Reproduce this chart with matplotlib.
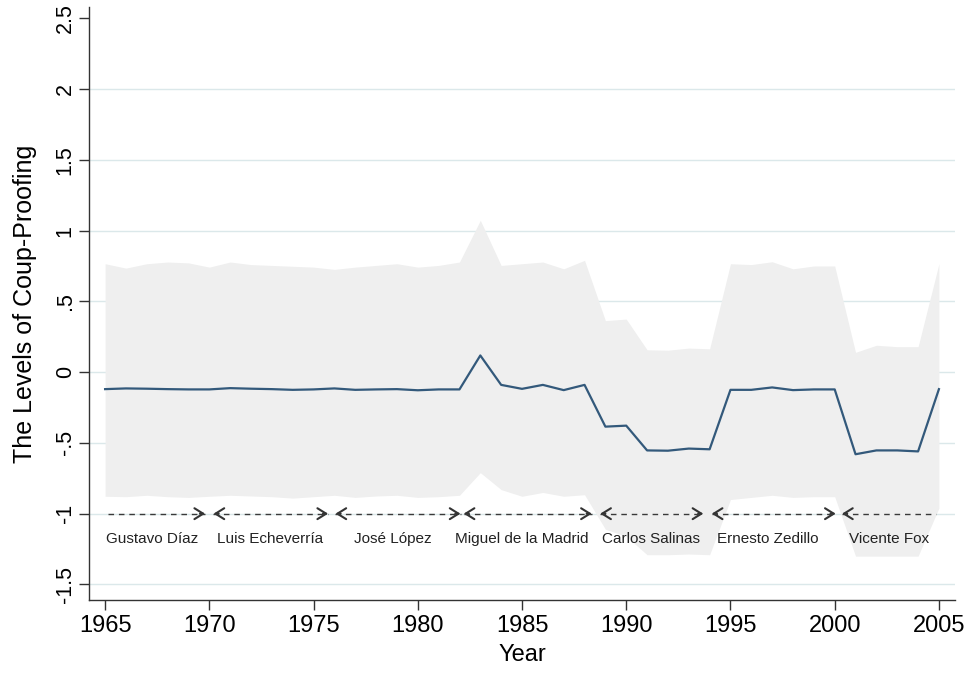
import matplotlib
matplotlib.use("Agg")
import matplotlib.pyplot as plt
import numpy as np

plt.rcParams["font.family"] = ["Liberation Sans", "DejaVu Sans"]

years = np.arange(1965, 2006)
estimate = [
    -0.120, -0.115, -0.117, -0.120, -0.122, -0.122, -0.113, -0.117, -0.120, -0.125,
    -0.122, -0.115, -0.125, -0.122, -0.120, -0.128, -0.122, -0.122, 0.118, -0.090,
    -0.118, -0.090, -0.127, -0.090, -0.385, -0.378, -0.553, -0.555, -0.540, -0.545,
    -0.125, -0.125, -0.108, -0.127, -0.122, -0.122, -0.580, -0.553, -0.553, -0.560,
    -0.120,
]
upper = [
    0.766, 0.735, 0.766, 0.778, 0.772, 0.742, 0.778, 0.760, 0.754, 0.748,
    0.742, 0.726, 0.742, 0.754, 0.766, 0.742, 0.754, 0.778, 1.073, 0.754,
    0.766, 0.778, 0.730, 0.790, 0.364, 0.375, 0.158, 0.155, 0.170, 0.165,
    0.766, 0.760, 0.780, 0.730, 0.750, 0.750, 0.140, 0.190, 0.180, 0.180,
    0.766,
]
lower = [
    -0.877, -0.880, -0.870, -0.880, -0.885, -0.877, -0.870, -0.875, -0.880, -0.890,
    -0.880, -0.870, -0.885, -0.875, -0.870, -0.885, -0.880, -0.870, -0.710, -0.830,
    -0.877, -0.850, -0.877, -0.866, -1.110, -1.160, -1.290, -1.290, -1.285, -1.290,
    -0.900, -0.885, -0.870, -0.885, -0.880, -0.880, -1.300, -1.300, -1.300, -1.300,
    -0.960,
]

presidents = ["Gustavo Díaz", "Luis Echeverría", "José López", "Miguel de la Madrid",
              "Carlos Salinas", "Ernesto Zedillo", "Vicente Fox"]
term_start = [1965.15, 1970.2, 1976.05, 1982.2, 1988.75, 1994.1, 2000.35]
term_end = [1969.8, 1975.7, 1982.05, 1988.35, 1993.7, 2000.05, 2004.85]
label_x = [1967.25, 1972.9, 1978.8, 1985.0, 1991.2, 1996.8, 2002.6]

yticks = [2.5, 2, 1.5, 1, 0.5, 0, -0.5, -1, -1.5]
ytick_labels = ["2.5", "2", "1.5", "1", ".5", "0", "-.5", "-1", "-1.5"]
xticks = [1965, 1970, 1975, 1980, 1985, 1990, 1995, 2000, 2005]

fig = plt.figure(figsize=(9.71, 6.77), dpi=100)
ax = fig.add_axes([0.0917, 0.1137, 0.8918, 0.876])

for y in yticks[1:]:
    ax.axhline(y, color="#dbe8ea", lw=1.0, zorder=0)

ax.fill_between(years, lower, upper, color="#efefef", lw=0, zorder=1)
ax.plot(years, estimate, color="#33597b", lw=1.6, zorder=3)

# presidential terms
head = "->,head_length=0.45,head_width=0.28"
for name, s, e, lx in zip(presidents, term_start, term_end, label_x):
    ax.plot([s, e], [-1, -1], color="#3a3a3a", lw=1.0, ls=(0, (4, 3.5)), zorder=4)
    if name != "Gustavo Díaz":
        ax.annotate("", xy=(s, -1), xytext=(s + 0.25, -1),
                    arrowprops=dict(arrowstyle=head, lw=1.5, color="#333333",
                                    mutation_scale=14, shrinkA=0, shrinkB=0))
    if name != "Vicente Fox":
        ax.annotate("", xy=(e, -1), xytext=(e - 0.25, -1),
                    arrowprops=dict(arrowstyle=head, lw=1.5, color="#333333",
                                    mutation_scale=14, shrinkA=0, shrinkB=0))
    ax.text(lx, -1.18, name, ha="center", va="center", fontsize=11, color="#222222")

ax.set_xlim(1964.23, 2005.77)
ax.set_ylim(-1.61, 2.58)
ax.set_xticks(xticks)
ax.set_xticklabels([str(x) for x in xticks], fontsize=17)
ax.set_yticks(yticks)
ax.set_yticklabels(ytick_labels, fontsize=15.5, rotation=90, va="center")
ax.tick_params(direction="out", length=7, width=1, color="#333333")
ax.tick_params(axis="x", pad=4)
ax.tick_params(axis="y", pad=2.5)
ax.set_xlabel("Year", fontsize=17, labelpad=5)
ax.set_ylabel("The Levels of Coup-Proofing", fontsize=18, labelpad=13)

for side in ["top", "right"]:
    ax.spines[side].set_visible(False)
for side in ["left", "bottom"]:
    ax.spines[side].set_color("#333333")
    ax.spines[side].set_linewidth(1.0)

fig.savefig("out.png", dpi=100)
